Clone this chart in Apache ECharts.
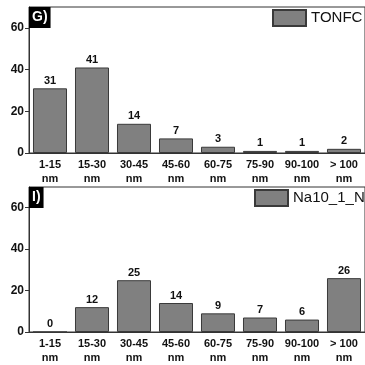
<!DOCTYPE html>
<html><head><meta charset="utf-8">
<script src="https://cdn.jsdelivr.net/npm/echarts@6/dist/echarts.min.js"></script>
<style>html,body{margin:0;padding:0;background:#fff}#c{width:365px;height:365px}</style>
</head><body><div id="c"></div>
<script>
var categories = ['1-15\nnm','15-30\nnm','30-45\nnm','45-60\nnm','60-75\nnm','75-90\nnm','90-100\nnm','> 100\nnm'];
var tonfc = [31, 41, 14, 7, 3, 1, 1, 2];
var na10 = [0, 12, 25, 14, 9, 7, 6, 26];
var yTicks = [0, 20, 40, 60];
var seriesNames = ['TONFC', 'Na10_1_N'];
var panelLabels = ['G)', 'I)'];

var FONT = 'Liberation Sans, Arial, sans-serif';
var chart = echarts.init(document.getElementById('c'));
var grids = [
  {left: 29, top: 7, width: 338, height: 146},
  {left: 29, top: 187, width: 338, height: 147}
];
function xAx(i){return {type:'category', gridIndex:i, data:categories,
  axisLine:{lineStyle:{color:'#333',width:1}}, axisTick:{show:false},
  axisLabel:{color:'#111', fontFamily:FONT, fontWeight:'bold', fontSize:11, lineHeight:14, margin:5, interval:0}};}
function yAx(i){return {type:'value', gridIndex:i, min:0, max:70, interval:20,
  splitLine:{show:false},
  axisLine:{show:true, lineStyle:{color:'#333',width:1}},
  axisTick:{show:true, inside:false, length:4, customValues:yTicks, lineStyle:{color:'#333'}},
  axisLabel:{color:'#111', fontFamily:FONT, fontWeight:'bold', fontSize:12, margin:5, customValues:yTicks}};}
function ser(i, data){return {type:'bar', name:seriesNames[i], xAxisIndex:i, yAxisIndex:i, data:data,
  barCategoryGap:'19%',
  itemStyle:{color:'#808080', borderColor:'#3a3a3a', borderWidth:1},
  label:{show:true, position:'top', distance:2, color:'#111', fontFamily:FONT, fontWeight:'bold', fontSize:11}};}
chart.setOption({
  animation:false,
  grid: grids.map(function(g){return Object.assign({show:true, borderColor:'#333', borderWidth:1, backgroundColor:'transparent'}, g);}),
  xAxis:[xAx(0), xAx(1)],
  yAxis:[yAx(0), yAx(1)],
  legend:[
    {data:[{name:seriesNames[0], icon:'rect'}], left:272, top:9, itemWidth:33, itemHeight:16, itemGap:0, padding:0,
     textStyle:{fontFamily:FONT, fontSize:15, color:'#111'}, selectedMode:false},
    {data:[{name:seriesNames[1], icon:'rect'}], left:254, top:189, itemWidth:33, itemHeight:16, itemGap:0, padding:0,
     textStyle:{fontFamily:FONT, fontSize:15, color:'#111'}, selectedMode:false}
  ],
  title:[
    {text:panelLabels[0], left:29, top:7, padding:[3,3,3,3], backgroundColor:'#000',
     textStyle:{color:'#fff', fontFamily:FONT, fontWeight:'bold', fontSize:14, lineHeight:15}},
    {text:panelLabels[1], left:29, top:187, padding:[3,3,3,3], backgroundColor:'#000',
     textStyle:{color:'#fff', fontFamily:FONT, fontWeight:'bold', fontSize:14, lineHeight:15}}
  ],
  series:[ser(0, tonfc), ser(1, na10)]
});
</script></body></html>
